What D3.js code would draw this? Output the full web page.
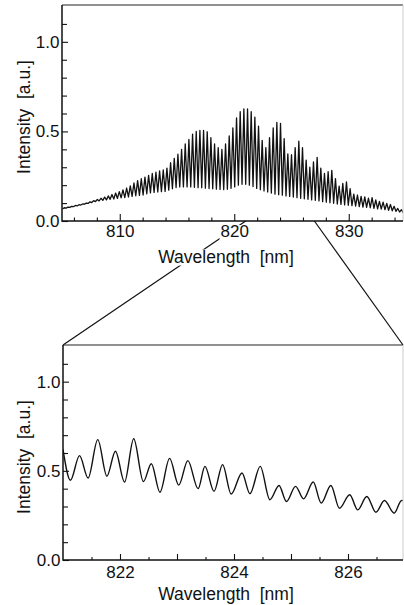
<!DOCTYPE html>
<html>
<head>
<meta charset="utf-8">
<script src="https://cdn.jsdelivr.net/npm/d3@7"></script>
<style>
  html, body { margin: 0; padding: 0; background: #fff; }
  svg { display: block; }
  text { font-family: "Liberation Sans", Arial, sans-serif; fill: #111; }
</style>
</head>
<body>
<svg width="404" height="605"></svg>
<script>
// Overview spectrum (805-835 nm): one trough and one peak per fringe,
// troughs at fringeStart + i*fringeStep, peaks half a fringe later
const fringeStart = 805;
const fringeStep = 0.32;
const overviewTroughs = [
    0.068, 0.072, 0.076, 0.080, 0.084, 0.089, 0.094, 0.098, 0.103, 0.108,
    0.112, 0.115, 0.118, 0.121, 0.123, 0.126, 0.129, 0.131, 0.134, 0.137,
    0.141, 0.143, 0.145, 0.152, 0.157, 0.160, 0.162, 0.164, 0.165, 0.172,
    0.180, 0.187, 0.190, 0.190, 0.190, 0.190, 0.188, 0.186, 0.185, 0.183,
    0.181, 0.180, 0.178, 0.176, 0.175, 0.177, 0.182, 0.190, 0.200, 0.205,
    0.205, 0.200, 0.192, 0.182, 0.175, 0.168, 0.162, 0.156, 0.150, 0.147,
    0.144, 0.140, 0.137, 0.134, 0.130, 0.127, 0.124, 0.121, 0.118, 0.115,
    0.112, 0.108, 0.105, 0.102, 0.099, 0.095, 0.093, 0.090, 0.088, 0.086,
    0.083, 0.080, 0.078, 0.076, 0.074, 0.071, 0.068, 0.066, 0.063, 0.060,
    0.057, 0.054, 0.050, 0.047
];
const overviewPeaks = [
    0.074, 0.078, 0.082, 0.087, 0.091, 0.095, 0.100, 0.107, 0.114, 0.120,
    0.127, 0.133, 0.140, 0.148, 0.156, 0.164, 0.174, 0.184, 0.196, 0.212,
    0.225, 0.236, 0.245, 0.255, 0.265, 0.272, 0.279, 0.285, 0.295, 0.325,
    0.350, 0.373, 0.400, 0.430, 0.455, 0.485, 0.500, 0.505, 0.505, 0.498,
    0.465, 0.430, 0.410, 0.400, 0.430, 0.475, 0.520, 0.575, 0.610, 0.625,
    0.625, 0.610, 0.580, 0.530, 0.450, 0.410, 0.465, 0.520, 0.550, 0.545,
    0.460, 0.375, 0.370, 0.410, 0.445, 0.410, 0.340, 0.300, 0.330, 0.355,
    0.295, 0.265, 0.275, 0.283, 0.237, 0.195, 0.210, 0.218, 0.180, 0.150,
    0.145, 0.137, 0.135, 0.127, 0.130, 0.118, 0.110, 0.105, 0.098, 0.092,
    0.082, 0.070, 0.063, 0.056
];
const overviewEnd = [835, 0.05];

// Zoomed spectrum (821-827 nm): extrema
const zoomNm = [
    821.00, 821.13, 821.29, 821.44, 821.61, 821.77, 821.92, 822.08, 822.24, 822.41,
    822.55, 822.70, 822.87, 823.03, 823.19, 823.37, 823.49, 823.65, 823.80, 823.95,
    824.14, 824.28, 824.46, 824.63, 824.79, 824.92, 825.08, 825.22, 825.39, 825.53,
    825.70, 825.85, 826.03, 826.17, 826.33, 826.49, 826.64, 826.81, 826.94, 827.00
];
const zoomIntensity = [
    0.620, 0.447, 0.585, 0.460, 0.675, 0.470, 0.610, 0.437, 0.680, 0.440,
    0.540, 0.380, 0.570, 0.420, 0.557, 0.400, 0.525, 0.385, 0.535, 0.370,
    0.488, 0.372, 0.525, 0.338, 0.418, 0.328, 0.413, 0.343, 0.437, 0.319,
    0.418, 0.290, 0.366, 0.281, 0.356, 0.268, 0.334, 0.263, 0.334, 0.330
];

const zoomWindow = [821, 827];
const yMajorTicks = [0, 0.5, 1.0];
const yMinorTicks = [0.1, 0.2, 0.3, 0.4, 0.6, 0.7, 0.8, 0.9, 1.1];
const overviewMajorX = [810, 820, 830];
const overviewMinorX = [806, 808, 812, 814, 816, 818, 822, 824, 826, 828, 832, 834];
const zoomMajorX = [822, 823, 824, 825, 826];
const zoomMinorX = [821.5, 822.5, 823.5, 824.5, 825.5, 826.5];
const zoomLabelX = [822, 824, 826];

const svg = d3.select("svg");

const overview = [];
overviewTroughs.forEach((v, i) => {
    overview.push([fringeStart + i * fringeStep, v]);
    overview.push([fringeStart + (i + 0.5) * fringeStep, overviewPeaks[i]]);
});
overview.push(overviewEnd);

const zoomed = zoomNm.map((nm, i) => [nm, zoomIntensity[i]]);

const topFrame = { left: 62, right: 403, top: 5, bottom: 221 };
const botFrame = { left: 63, right: 403, top: 345, bottom: 560 };

const xTop = d3.scaleLinear().domain([805, 835]).range([62.5, 406]);
const yTop = d3.scaleLinear().domain([0, 1.2]).range([221, 6]);
const xBot = d3.scaleLinear().domain(zoomWindow).range([63, 405]);
const yBot = d3.scaleLinear().domain([0, 1.2]).range([560, 346]);

// lines from the zoom window on the upper axis to the corners of the lower panel
svg.append("g").selectAll("line")
    .data([[zoomWindow[0], botFrame.left], [zoomWindow[1], botFrame.right]])
    .enter().append("line")
    .attr("x1", d => xTop(d[0]))
    .attr("y1", topFrame.bottom)
    .attr("x2", d => d[1])
    .attr("y2", botFrame.top)
    .attr("stroke", "#111")
    .attr("stroke-width", 1.2);

function maskText(sel) {
    sel.each(function () {
        const b = this.getBBox();
        d3.select(this.parentNode).insert("rect", () => this)
            .attr("x", b.x - 1)
            .attr("y", b.y + 3)
            .attr("width", b.width + 2)
            .attr("height", b.height - 4)
            .attr("fill", "#fff");
    });
}

function drawPanel(p) {
    const g = svg.append("g");

    g.append("clipPath").attr("id", p.id + "-clip")
        .append("rect")
        .attr("x", p.frame.left)
        .attr("y", p.frame.top)
        .attr("width", p.frame.right - p.frame.left)
        .attr("height", p.frame.bottom - p.frame.top);

    g.append("path")
        .datum(p.data)
        .attr("clip-path", `url(#${p.id}-clip)`)
        .attr("fill", "none")
        .attr("stroke", "#111")
        .attr("stroke-width", p.lineWidth)
        .attr("stroke-linejoin", "round")
        .attr("d", d3.line().x(d => p.x(d[0])).y(d => p.y(d[1])).curve(p.curve));

    // x ticks point up into the plot
    g.append("g")
        .attr("transform", `translate(0,${p.frame.bottom})`)
        .call(d3.axisBottom(p.x).tickValues(p.minorX).tickSizeInner(-p.minorLen).tickSizeOuter(0).tickFormat(""))
        .call(a => a.select(".domain").remove());
    g.append("g")
        .attr("transform", `translate(0,${p.frame.bottom})`)
        .call(d3.axisBottom(p.x).tickValues(p.majorX).tickSizeInner(-p.majorLen).tickSizeOuter(0).tickFormat(""))
        .call(a => a.select(".domain").remove());
    const xLabels = g.append("g")
        .attr("transform", `translate(0,${p.frame.bottom})`)
        .call(d3.axisBottom(p.x).tickValues(p.labelX).tickSize(0).tickPadding(p.labelPad).tickFormat(d3.format("d")))
        .call(a => a.select(".domain").remove())
        .attr("font-size", 17)
        .attr("font-family", null);
    xLabels.selectAll(".tick line").remove();

    // y ticks point right into the plot
    g.append("g")
        .attr("transform", `translate(${p.frame.left},0)`)
        .call(d3.axisLeft(p.y).tickValues(yMinorTicks).tickSizeInner(-5).tickSizeOuter(0).tickFormat(""))
        .call(a => a.select(".domain").remove());
    g.append("g")
        .attr("transform", `translate(${p.frame.left},0)`)
        .call(d3.axisLeft(p.y).tickValues(yMajorTicks).tickSizeInner(-6).tickSizeOuter(0).tickPadding(2.5).tickFormat(d3.format(".1f")))
        .call(a => a.select(".domain").remove())
        .attr("font-size", 17)
        .attr("font-family", null);

    g.selectAll(".tick line").attr("stroke", "#111").attr("stroke-width", 1.1);

    const xTitle = g.append("text")
        .attr("x", 226)
        .attr("y", p.titleY)
        .attr("text-anchor", "middle")
        .attr("font-size", 17.5)
        .text("Wavelength\u00a0 [nm]");

    g.append("text")
        .attr("transform", `translate(30,${p.yTitleY}) rotate(-90)`)
        .attr("text-anchor", "middle")
        .attr("font-size", 17.5)
        .text("Intensity\u00a0 [a.u.]");

    if (p.mask) {
        maskText(xLabels.selectAll(".tick text"));
        maskText(xTitle);
    }

    // frame: strong left/bottom axes, lighter top, faint right edge
    g.append("line")
        .attr("x1", p.frame.left).attr("x2", p.frame.right)
        .attr("y1", p.frame.top).attr("y2", p.frame.top)
        .attr("stroke", "#222").attr("stroke-width", 1.2);
    g.append("line")
        .attr("x1", p.frame.right).attr("x2", p.frame.right)
        .attr("y1", p.frame.top).attr("y2", p.frame.bottom)
        .attr("stroke", "#ccc").attr("stroke-width", 1);
    g.append("path")
        .attr("d", `M${p.frame.left},${p.frame.top}V${p.frame.bottom}H${p.frame.right}`)
        .attr("fill", "none")
        .attr("stroke", "#111")
        .attr("stroke-width", 1.5);
}

drawPanel({
    id: "overview", data: overview, x: xTop, y: yTop, frame: topFrame,
    curve: d3.curveLinear, lineWidth: 1.3,
    minorX: overviewMinorX, majorX: overviewMajorX, labelX: overviewMajorX,
    minorLen: 3.5, majorLen: 7, labelPad: 4,
    titleY: 262.5, yTitleY: 117, mask: true
});

drawPanel({
    id: "zoomed", data: zoomed, x: xBot, y: yBot, frame: botFrame,
    curve: d3.curveMonotoneX, lineWidth: 1.4,
    minorX: zoomMinorX, majorX: zoomMajorX, labelX: zoomLabelX,
    minorLen: 3, majorLen: 6, labelPad: 6,
    titleY: 599.5, yTitleY: 457, mask: false
});
</script>
</body>
</html>
